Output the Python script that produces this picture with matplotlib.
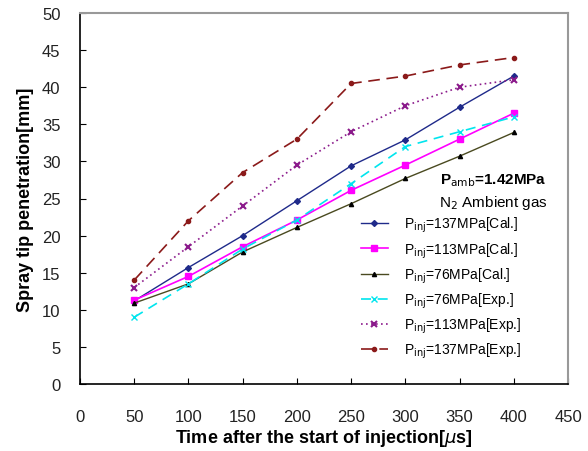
import matplotlib
matplotlib.use("Agg")
import matplotlib.pyplot as plt

plt.rcParams['font.family'] = ['Liberation Sans', 'DejaVu Sans']

time_us = [50, 100, 150, 200, 250, 300, 350, 400]
cal_137 = [11.2, 15.7, 20.0, 24.7, 29.4, 32.9, 37.3, 41.5]
cal_113 = [11.3, 14.5, 18.5, 22.1, 26.1, 29.5, 33.0, 36.5]
cal_76 = [10.9, 13.5, 17.8, 21.1, 24.3, 27.7, 30.7, 33.9]
exp_76 = [9.0, 13.5, 18.2, 22.1, 27.0, 32.0, 34.0, 36.0]
exp_113 = [13.0, 18.5, 24.0, 29.5, 34.0, 37.5, 40.0, 41.0]
exp_137 = [14.0, 22.0, 28.5, 33.0, 40.5, 41.5, 43.0, 44.0]

x_ticks = [0, 50, 100, 150, 200, 250, 300, 350, 400, 450]
y_ticks = [0, 5, 10, 15, 20, 25, 30, 35, 40, 45, 50]

fig = plt.figure(figsize=(5.88, 4.52), dpi=100)
ax = fig.add_axes([80 / 588, 1 - 385 / 452, 488 / 588, 371 / 452])

ax.plot(time_us, cal_137, color="#1f2a8a", lw=1.0, marker="D", ms=3,
        label=r"P$_{\rm inj}$=137MPa[Cal.]")
ax.plot(time_us, cal_113, color="#ff00ff", lw=1.2, marker="s", ms=5,
        label=r"P$_{\rm inj}$=113MPa[Cal.]")
ax.plot(time_us, cal_76, color="#4a4a20", lw=1.0, marker="^", ms=3,
        mfc="black", mec="black", label=r"P$_{\rm inj}$=76MPa[Cal.]")
ax.plot(time_us, exp_76, color="#00e5ee", lw=1.2, ls=(0, (6, 4)), marker="x", ms=4,
        label=r"P$_{\rm inj}$=76MPa[Exp.]")
ax.plot(time_us, exp_113, color="#8b1a8b", lw=1.2, ls=(0, (1, 2)), marker="x", ms=4,
        mew=1.5, label=r"P$_{\rm inj}$=113MPa[Exp.]")
ax.plot(time_us, exp_137, color="#8b1a1a", lw=1.2, ls=(0, (7, 4)), marker="o", ms=3,
        label=r"P$_{\rm inj}$=137MPa[Exp.]")

ax.set_xlim(0, 450)
ax.set_ylim(0, 50)
ax.set_xticks(x_ticks)
ax.set_yticks(y_ticks)
ax.tick_params(direction="in", length=4, labelsize=12, colors="black",
               labelcolor="#222222")
ax.tick_params(axis="x", pad=18)
ax.tick_params(axis="y", pad=14)
for s in ["top", "right"]:
    ax.spines[s].set_color("#999999")
    ax.spines[s].set_linewidth(1.5)
for s in ["left", "bottom"]:
    ax.spines[s].set_linewidth(1.2)

ax.set_xlabel(r"Time after the start of injection[$\mu$s]", fontsize=13,
              fontweight="bold", labelpad=2)
ax.set_ylabel("Spray tip penetration[mm]", fontsize=13, fontweight="bold",
              labelpad=6)

ax.text(381, 27.6, r"P$_{\rm amb}$=1.42MPa", fontsize=11, fontweight="bold",
        ha="center", va="center")
ax.text(381, 24.5, r"N$_2$ Ambient gas", fontsize=11, ha="center", va="center")

ax.legend(loc="upper left", bbox_to_anchor=(0.575, 0.455), frameon=False,
          fontsize=10, handlelength=2.0, handletextpad=1.1, labelspacing=0.42,
          borderpad=0, borderaxespad=0)

fig.savefig("out.png", dpi=100)
